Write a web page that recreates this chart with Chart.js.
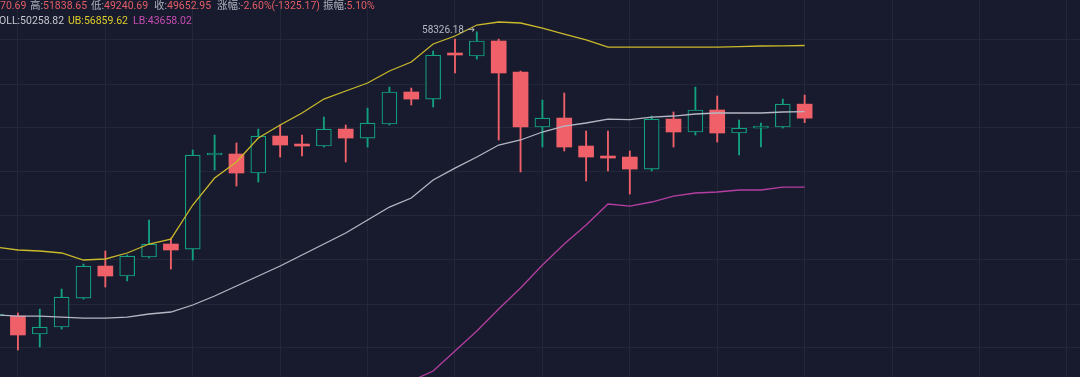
<!DOCTYPE html>
<html><head><meta charset="utf-8">
<script src="https://cdn.jsdelivr.net/npm/chart.js@4.4.1/dist/chart.umd.min.js"></script>
<style>html,body{margin:0;padding:0;background:#181b2d;overflow:hidden}canvas{display:block}</style>
</head><body>
<canvas id="c" width="1080" height="377"></canvas>
<script>
// ---- data ----
const candleIndex = [-1,0,1,2,3,4,5,6,7,8,9,10,11,12,13,14,15,16,17,18,19,20,21,22,23,24,25,26,27,28,29,30,31,32,33,34,35,36];
const opens  = [34331,34331,33199,33634,35502,37686,36990,38324,39266,38898,46355,46442,44826,48026,47228,47139,48654,47845,49115,52136,51453,55964,55754,57339,54118,48839,49664,47139,46268,46181,45156,49570,48388,50415,48297,48746,48839,50970.69];
const highs  = [34460,34525,34780,36101,37828,38758,38468,41064,39705,46791,48116,47406,48654,49023,48116,49758,49023,50598,52621,52522,56279,57546,58326.18,57546,54219,51364,52039,48479,48479,46704,49852,50227,52621,51746,49484,49207,51453,51838.65];
const lows   = [34266,32223,32402,33507,35435,36238,36650,38252,37473,38112,45078,43751,44080,46181,46268,47050,45755,47050,49023,50885,50694,54016,55439,47672,44910,47050,46704,44163,44994,43103,44994,47050,48116,47494,46355,47050,48746,49240.69];
const closes = [34395,33137,33634,35569,37686,36990,38396,39266,38830,46355,46442,44826,48026,47228,47139,48654,47845,49207,52136,51453,55859,55859,57339,54016,48839,49664,47050,46181,46094,45156,49570,48388,50415,48297,48746,48839,50978.12,49652.95];
const bollMid = [34395,34331,34331,34266,34202,34202,34266,34460,34590,35044,35636,36307,36990,37686,38468,39266,40081,41064,42069,42780,44245,45241,46181,47228,47672,48388,48931,49207,49570,49523,49758,49852,50040,50133,50133,50133,50227,50258.82];
const bollUp  = [39045,38830,38758,38613,38112,38184,38613,39266,39630,42228,44406,45755,47845,49023,50133,51453,52234,53018,54219,55136,57018,57873,59073,59407,59296,58740,58091,57446,56697,56697,56697,56697,56697,56697,56750,56804,56830,56859.62];
const bollLow = [null,null,null,null,null,null,null,null,null,null,null,null,null,null,null,null,null,null,29740,30413,30986,32163,33386,34780,36170,37757,39266,40681,42307,42148,42466,42942,43184,43265,43427,43427,43668,43658.02];
const priceMin = 30641, priceMax = 61895;
const xMin = -0.82, xMax = 48.6;

// ---- style ----
const BG = '#181b2d', GRID = '#232839';
const UP = '#12a07f', DOWN = '#ef6069';
const isUp = i => closes[i] >= opens[i];

const bodies = candleIndex.map((x,i)=>({x, y:[opens[i], closes[i]]}));
const wicks  = candleIndex.map((x,i)=>({x, y:[lows[i], highs[i]]}));
const line = arr => candleIndex.map((x,i)=>({x, y:arr[i]}));

const overlay = {
  id:'overlay',
  afterDatasetsDraw(chart){
    const ctx = chart.ctx;
    const n = closes.length-1;
    const o=opens[n], h=highs[n], l=lows[n], c=closes[n], pc=closes[n-1];
    const chg = c-pc, pct = chg/pc*100, amp=(h-l)/pc*100;
    ctx.save();
    ctx.textBaseline='middle';
    ctx.textAlign='left';
    ctx.font='10.5px Roboto, "Noto Sans CJK SC", sans-serif';
    const LBL='#aeb2bd', VAL='#e35d66';
    const item=(label,value,x,y)=>{
      ctx.fillStyle=LBL; ctx.fillText(label,x,y);
      const w=ctx.measureText(label).width;
      ctx.fillStyle=VAL; ctx.fillText(value,x+w,y);
    };
    const y1=6;
    item('开:', o.toFixed(2), -ctx.measureText('开:509').width, y1);
    item('高:', h.toFixed(2), 30, y1);
    item('低:', l.toFixed(2), 91, y1);
    item('收:', c.toFixed(2), 154, y1);
    item('涨幅:', pct.toFixed(2)+'%('+chg.toFixed(2)+')', 217, y1);
    item('振幅:', amp.toFixed(2)+'%', 323, y1);
    const y2=21;
    ctx.fillStyle='#c6c8d0';
    ctx.fillText('BOLL:'+bollMid[n].toFixed(2), -ctx.measureText('B').width-1, y2);
    ctx.fillStyle='#dccd2b';
    ctx.fillText('UB:'+bollUp[n].toFixed(2), 68, y2);
    ctx.fillStyle='#c64cb3';
    ctx.fillText('LB:'+bollLow[n].toFixed(2), 133, y2);
    // max high marker
    let mi=0; highs.forEach((v,i)=>{ if(v>highs[mi]) mi=i; });
    const px=chart.scales.x.getPixelForValue(candleIndex[mi]);
    const py=chart.scales.y.getPixelForValue(highs[mi]);
    ctx.font='10px Roboto, "DejaVu Sans", sans-serif';
    ctx.fillStyle='#b4b8c2';
    ctx.textAlign='right';
    ctx.fillText(highs[mi].toFixed(2)+' →', px-2, py-1);
    ctx.restore();
  }
};

new Chart(document.getElementById('c'), {
  type:'bar',
  data:{ datasets:[
    {type:'line', data:line(bollUp), borderColor:'#c9b92b', borderWidth:1.3, pointRadius:0, tension:0, order:0},
    {type:'line', data:line(bollMid), borderColor:'#b4b7c3', borderWidth:1.3, pointRadius:0, tension:0, order:0},
    {type:'line', data:line(bollLow), borderColor:'#b43ea2', borderWidth:1.3, pointRadius:0, tension:0, order:0},
    {type:'bar', data:bodies, grouped:false, barThickness:15, minBarLength:2, borderSkipped:false,
      backgroundColor:c=>isUp(c.dataIndex)?BG:DOWN,
      borderColor:c=>isUp(c.dataIndex)?UP:DOWN,
      borderWidth:c=>isUp(c.dataIndex)?1.2:0, order:1},
    {type:'bar', data:wicks, grouped:false, barThickness:1.2, borderWidth:0,
      backgroundColor:c=>isUp(c.dataIndex)?UP:DOWN, order:2}
  ]},
  options:{
    responsive:false, animation:false, events:[], devicePixelRatio:1,
    layout:{padding:0},
    plugins:{legend:{display:false}, tooltip:{enabled:false}},
    scales:{
      x:{type:'linear', min:xMin, max:xMax, bounds:'data', offset:false,
        ticks:{display:false}, border:{display:false},
        grid:{color:GRID, drawTicks:false},
        afterBuildTicks:s=>{ const t=[]; for(let v=-2; v<=xMax; v+=4) t.push({value:v}); s.ticks=t; }},
      y:{type:'logarithmic', min:priceMin, max:priceMax, bounds:'data',
        ticks:{display:false}, border:{display:false},
        grid:{color:GRID, drawTicks:false},
        afterBuildTicks:s=>{
          const a=Math.log(priceMax), b=Math.log(priceMin), H=377, t=[];
          for(let p=-4; p<H; p+=44) t.push({value:Math.exp(a-p/H*(a-b))});
          s.ticks=t; }}
    }
  },
  plugins:[overlay]
});
</script>
</body></html>
